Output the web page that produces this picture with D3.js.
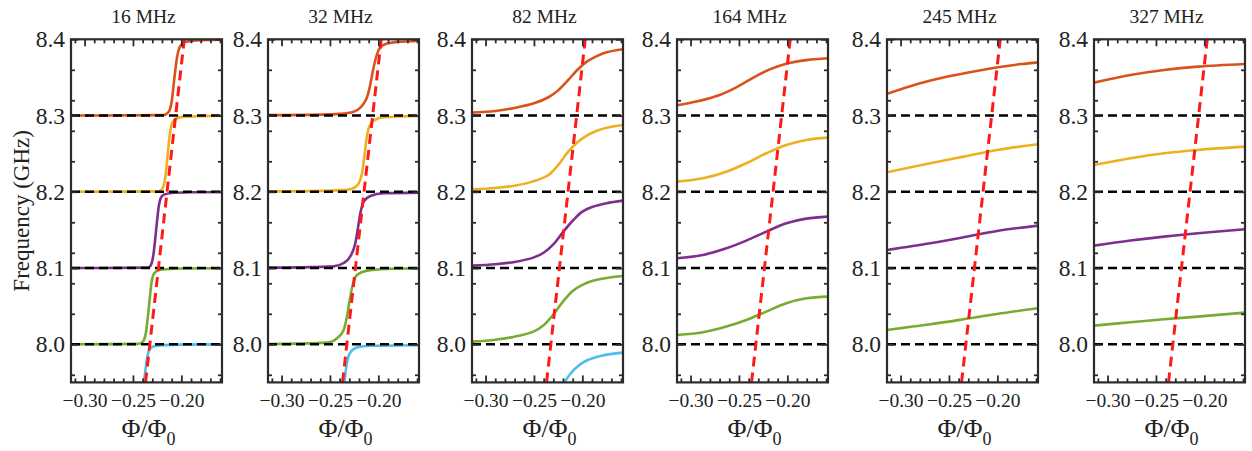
<!DOCTYPE html>
<html><head><meta charset="utf-8">
<script src="https://cdn.jsdelivr.net/npm/d3@7"></script>
<style>body{margin:0;background:#fff}svg{display:block} text{font-family:"Liberation Serif","Times New Roman",Times,serif;}</style>
</head><body>
<svg id="chart" width="1252" height="451"></svg>
<script>
// ---------------- DATA ----------------
const panelTitles = ["16 MHz", "32 MHz", "82 MHz", "164 MHz", "245 MHz", "327 MHz"];
const resonatorLevels = [8.0, 8.1, 8.2, 8.3];
const qubitLine = [[-0.237, 7.95], [-0.197, 8.4]];
const xTickValues = [-0.30, -0.25, -0.20];
const yTickValues = [8.0, 8.1, 8.2, 8.3, 8.4];

// 16 MHz
const p16_cyan = [[-0.2386,7.95],[-0.2370,7.967],[-0.2355,7.981],[-0.2340,7.990],[-0.2320,7.995],[-0.2280,7.9975],[-0.2200,7.9988],[-0.2000,7.9996],[-0.158,7.9999]];
const p16_green = [[-0.314,8.0],[-0.2450,8.0005],[-0.2410,8.002],[-0.2385,8.006],[-0.2365,8.016],[-0.2345,8.037],[-0.2325,8.062],[-0.2308,8.081],[-0.2290,8.091],[-0.2260,8.0955],[-0.2200,8.098],[-0.2000,8.0993],[-0.158,8.0998]];
const p16_purple = [[-0.314,8.1],[-0.2360,8.1005],[-0.2325,8.102],[-0.2305,8.107],[-0.2288,8.118],[-0.2270,8.138],[-0.2250,8.163],[-0.2232,8.182],[-0.2212,8.192],[-0.2180,8.1962],[-0.2100,8.1985],[-0.1900,8.1994],[-0.158,8.1998]];
const p16_yellow = [[-0.314,8.2],[-0.2250,8.2005],[-0.2210,8.202],[-0.2185,8.207],[-0.2165,8.22],[-0.2148,8.24],[-0.2130,8.263],[-0.2112,8.282],[-0.2092,8.291],[-0.2060,8.2955],[-0.1990,8.2982],[-0.1800,8.2993],[-0.158,8.2998]];
const p16_orange = [[-0.314,8.3],[-0.2190,8.3005],[-0.2145,8.303],[-0.2118,8.308],[-0.2098,8.32],[-0.2080,8.34],[-0.2062,8.36],[-0.2042,8.378],[-0.2020,8.389],[-0.1990,8.394],[-0.1940,8.397],[-0.1800,8.3988],[-0.158,8.3995]];

// 32 MHz
const p32_cyan = [[-0.2351,7.95],[-0.2324,7.9762],[-0.2290,7.9893],[-0.2221,7.9958],[-0.2083,7.998],[-0.158,7.9988]];
const p32_green = [[-0.314,8.0003],[-0.2531,8.0022],[-0.2427,8.0079],[-0.2358,8.0188],[-0.2324,8.0363],[-0.2296,8.0581],[-0.2265,8.0778],[-0.2221,8.0909],[-0.2117,8.0966],[-0.1910,8.0988],[-0.158,8.0997]];
const p32_purple = [[-0.314,8.1005],[-0.2700,8.1012],[-0.2462,8.1022],[-0.2359,8.1066],[-0.2290,8.1153],[-0.2238,8.1325],[-0.2214,8.15],[-0.2186,8.1718],[-0.2152,8.1871],[-0.2083,8.1945],[-0.1945,8.198],[-0.158,8.1989]];
const p32_yellow = [[-0.314,8.2005],[-0.2600,8.2012],[-0.2330,8.2025],[-0.2255,8.205],[-0.2203,8.211],[-0.2169,8.2243],[-0.2145,8.2461],[-0.2124,8.268],[-0.2100,8.2833],[-0.2070,8.2905],[-0.2048,8.2933],[-0.1945,8.2977],[-0.158,8.2994]];
const p32_orange = [[-0.314,8.3005],[-0.2600,8.3012],[-0.2400,8.3022],[-0.2255,8.305],[-0.2186,8.3105],[-0.2140,8.318],[-0.2117,8.324],[-0.2095,8.334],[-0.2075,8.346],[-0.2055,8.3594],[-0.2031,8.3729],[-0.1997,8.386],[-0.1950,8.3925],[-0.1880,8.3952],[-0.1807,8.3966],[-0.158,8.3978]];

// 82 MHz
const p82_cyan = [[-0.2185,7.95],[-0.2120,7.962],[-0.2050,7.971],[-0.1950,7.979],[-0.1800,7.985],[-0.158,7.989]];
const p82_green = [[-0.314,8.0035],[-0.290,8.006],[-0.270,8.010],[-0.250,8.017],[-0.240,8.025],[-0.230,8.039],[-0.220,8.056],[-0.210,8.070],[-0.200,8.078],[-0.190,8.083],[-0.175,8.087],[-0.158,8.0896]];
const p82_purple = [[-0.314,8.1032],[-0.290,8.105],[-0.270,8.108],[-0.250,8.114],[-0.240,8.120],[-0.230,8.131],[-0.220,8.147],[-0.210,8.162],[-0.200,8.174],[-0.190,8.180],[-0.175,8.185],[-0.158,8.1884]];
const p82_yellow = [[-0.314,8.2033],[-0.290,8.205],[-0.270,8.208],[-0.250,8.214],[-0.235,8.222],[-0.225,8.235],[-0.215,8.252],[-0.205,8.265],[-0.195,8.274],[-0.185,8.280],[-0.175,8.284],[-0.158,8.2877]];
const p82_orange = [[-0.314,8.304],[-0.290,8.306],[-0.270,8.310],[-0.250,8.316],[-0.235,8.324],[-0.225,8.333],[-0.215,8.346],[-0.205,8.360],[-0.195,8.371],[-0.185,8.378],[-0.175,8.383],[-0.158,8.387]];

// 164 MHz
const p164_green = [[-0.314,8.0122],[-0.2871,8.0157],[-0.2630,8.0232],[-0.2424,8.0319],[-0.2217,8.0428],[-0.2011,8.0538],[-0.1804,8.0603],[-0.158,8.0625]];
const p164_purple = [[-0.314,8.1128],[-0.2871,8.1172],[-0.2630,8.1259],[-0.2424,8.136],[-0.2217,8.1478],[-0.2011,8.1587],[-0.1804,8.1648],[-0.158,8.1674]];
const p164_yellow = [[-0.314,8.2133],[-0.2871,8.2177],[-0.2630,8.2264],[-0.2424,8.2374],[-0.2217,8.2505],[-0.2011,8.2614],[-0.1804,8.268],[-0.158,8.271]];
const p164_orange = [[-0.314,8.3134],[-0.2940,8.3183],[-0.2699,8.327],[-0.2527,8.337],[-0.2355,8.3495],[-0.2183,8.3605],[-0.2011,8.3680],[-0.1804,8.3727],[-0.158,8.3751]];

// 245 MHz
const p245_green = [[-0.314,8.0188],[-0.2692,8.0262],[-0.2348,8.0328],[-0.2004,8.0398],[-0.158,8.0472]];
const p245_purple = [[-0.314,8.1237],[-0.2692,8.1325],[-0.2348,8.1403],[-0.2004,8.1486],[-0.158,8.1556]];
const p245_yellow = [[-0.314,8.2256],[-0.2692,8.2374],[-0.2348,8.2461],[-0.2004,8.2549],[-0.158,8.2623]];
const p245_orange = [[-0.314,8.3285],[-0.290,8.3385],[-0.270,8.3455],[-0.250,8.3515],[-0.230,8.3565],[-0.210,8.3610],[-0.190,8.3650],[-0.175,8.3675],[-0.158,8.3698]];

// 327 MHz
const p327_green = [[-0.314,8.0245],[-0.2764,8.0289],[-0.2416,8.0328],[-0.2068,8.0363],[-0.158,8.0415]];
const p327_purple = [[-0.314,8.1294],[-0.2764,8.136],[-0.2416,8.1412],[-0.2068,8.1456],[-0.158,8.1508]];
const p327_yellow = [[-0.314,8.2352],[-0.2764,8.2439],[-0.2416,8.2505],[-0.2068,8.2549],[-0.158,8.2592]];
const p327_orange = [[-0.314,8.3432],[-0.2764,8.3532],[-0.2416,8.3598],[-0.2068,8.3642],[-0.158,8.3677]];

const panelSeries = [
  [p16_cyan, p16_green, p16_purple, p16_yellow, p16_orange],
  [p32_cyan, p32_green, p32_purple, p32_yellow, p32_orange],
  [p82_cyan, p82_green, p82_purple, p82_yellow, p82_orange],
  [null, p164_green, p164_purple, p164_yellow, p164_orange],
  [null, p245_green, p245_purple, p245_yellow, p245_orange],
  [null, p327_green, p327_purple, p327_yellow, p327_orange]
];

// ---------------- STYLE / LAYOUT ----------------
const branchColors = ["#4DBEEE", "#77AC30", "#7E2F8E", "#EDB120", "#D95319"];
const panelLeft = [71, 268, 472, 677, 887, 1094];
const panelWidth = 151;
const plotTop = 39.3, plotBottom = 382.4;
const axisColor = "#2b2b2b";
const fontFam = '"Liberation Serif","Times New Roman",Times,serif';

const svg = d3.select("#chart");
const defs = svg.append("defs");

const xMinor = d3.range(-31, -15).map(d => d / 100).filter(v => !xTickValues.some(t => Math.abs(t - v) < 1e-9));
const yMinor = d3.range(398, 421, 2).map(d => d / 50).filter(v => !yTickValues.some(t => Math.abs(t - v) < 1e-9));

panelTitles.forEach((title, i) => {
  const x = d3.scaleLinear().domain([-0.314, -0.158]).range([panelLeft[i], panelLeft[i] + panelWidth]);
  const y = d3.scaleLinear().domain([7.95, 8.4]).range([plotBottom, plotTop]);
  const g = svg.append("g");

  defs.append("clipPath").attr("id", "clip" + i)
    .append("rect").attr("x", x.range()[0]).attr("y", plotTop)
    .attr("width", panelWidth).attr("height", plotBottom - plotTop);

  const plot = g.append("g").attr("clip-path", `url(#clip${i})`);
  const curve = i < 2 ? d3.curveMonotoneX : d3.curveCatmullRom.alpha(0.5);
  const line = d3.line().x(d => x(d[0])).y(d => y(d[1])).curve(curve);

  panelSeries[i].forEach((s, k) => {
    if (!s) return;
    plot.append("path").attr("d", line(s)).attr("fill", "none")
      .attr("stroke", branchColors[k]).attr("stroke-width", 2.6).attr("stroke-linecap", "butt");
  });

  resonatorLevels.forEach(lv => {
    plot.append("line").attr("x1", x.range()[0]).attr("x2", x.range()[1])
      .attr("y1", y(lv)).attr("y2", y(lv))
      .attr("stroke", "#000").attr("stroke-width", 2.4).attr("stroke-dasharray", "9,5");
  });

  plot.append("path").attr("d", d3.line().x(d => x(d[0])).y(d => y(d[1]))(qubitLine))
    .attr("fill", "none").attr("stroke", "#ff1a1a").attr("stroke-width", 3).attr("stroke-dasharray", "10,6");

  const fmtX = d3.format(".2f"), fmtY = d3.format(".1f");
  const mk = (axis, tr, size, vals) => {
    const a = g.append("g").attr("transform", tr)
      .call(axis.tickValues(vals).tickSize(size).tickPadding(6));
    a.attr("font-family", null).attr("font-size", null);
    a.select(".domain").remove();
    a.selectAll(".tick line").attr("stroke", axisColor).attr("stroke-width", 1.8);
    return a;
  };
  const bx = mk(d3.axisBottom(x).tickFormat(fmtX), `translate(0,${plotBottom})`, -7, xTickValues);
  bx.selectAll("text").style("font-family", fontFam).style("font-size", "19.5px").attr("fill", "#222").attr("dy", "0.95em");
  mk(d3.axisBottom(x).tickFormat(""), `translate(0,${plotBottom})`, -4, xMinor);
  mk(d3.axisTop(x).tickFormat(""), `translate(0,${plotTop})`, -7, xTickValues);
  mk(d3.axisTop(x).tickFormat(""), `translate(0,${plotTop})`, -4, xMinor);
  const ly = mk(d3.axisLeft(y).tickFormat(fmtY), `translate(${x.range()[0]},0)`, -7, yTickValues);
  ly.selectAll("text").style("font-family", fontFam).style("font-size", "23.5px").attr("fill", "#222");
  mk(d3.axisLeft(y).tickFormat(""), `translate(${x.range()[0]},0)`, -4, yMinor);
  mk(d3.axisRight(y).tickFormat(""), `translate(${x.range()[1]},0)`, -7, yTickValues);
  mk(d3.axisRight(y).tickFormat(""), `translate(${x.range()[1]},0)`, -4, yMinor);

  g.append("rect").attr("x", x.range()[0]).attr("y", plotTop)
    .attr("width", panelWidth).attr("height", plotBottom - plotTop)
    .attr("fill", "none").attr("stroke", axisColor).attr("stroke-width", 2.2);

  g.append("text").attr("x", x.range()[0] + panelWidth / 2 - 3).attr("y", 23)
    .attr("text-anchor", "middle").style("font-family", fontFam).style("font-size", "19.5px")
    .attr("fill", "#222").text(title);

  const xl = g.append("text").attr("x", x.range()[0] + panelWidth / 2 + 2).attr("y", 437)
    .attr("text-anchor", "middle").style("font-family", fontFam).style("font-size", "26px").attr("fill", "#222");
  xl.append("tspan").text("Φ/Φ");
  xl.append("tspan").style("font-size", "18px").attr("dy", 8).text("0");
});

svg.append("text").attr("transform", `translate(29,${(plotTop + plotBottom) / 2}) rotate(-90)`)
  .attr("text-anchor", "middle").style("font-family", fontFam).style("font-size", "23px")
  .attr("fill", "#222").text("Frequency (GHz)");
</script>
</body></html>
